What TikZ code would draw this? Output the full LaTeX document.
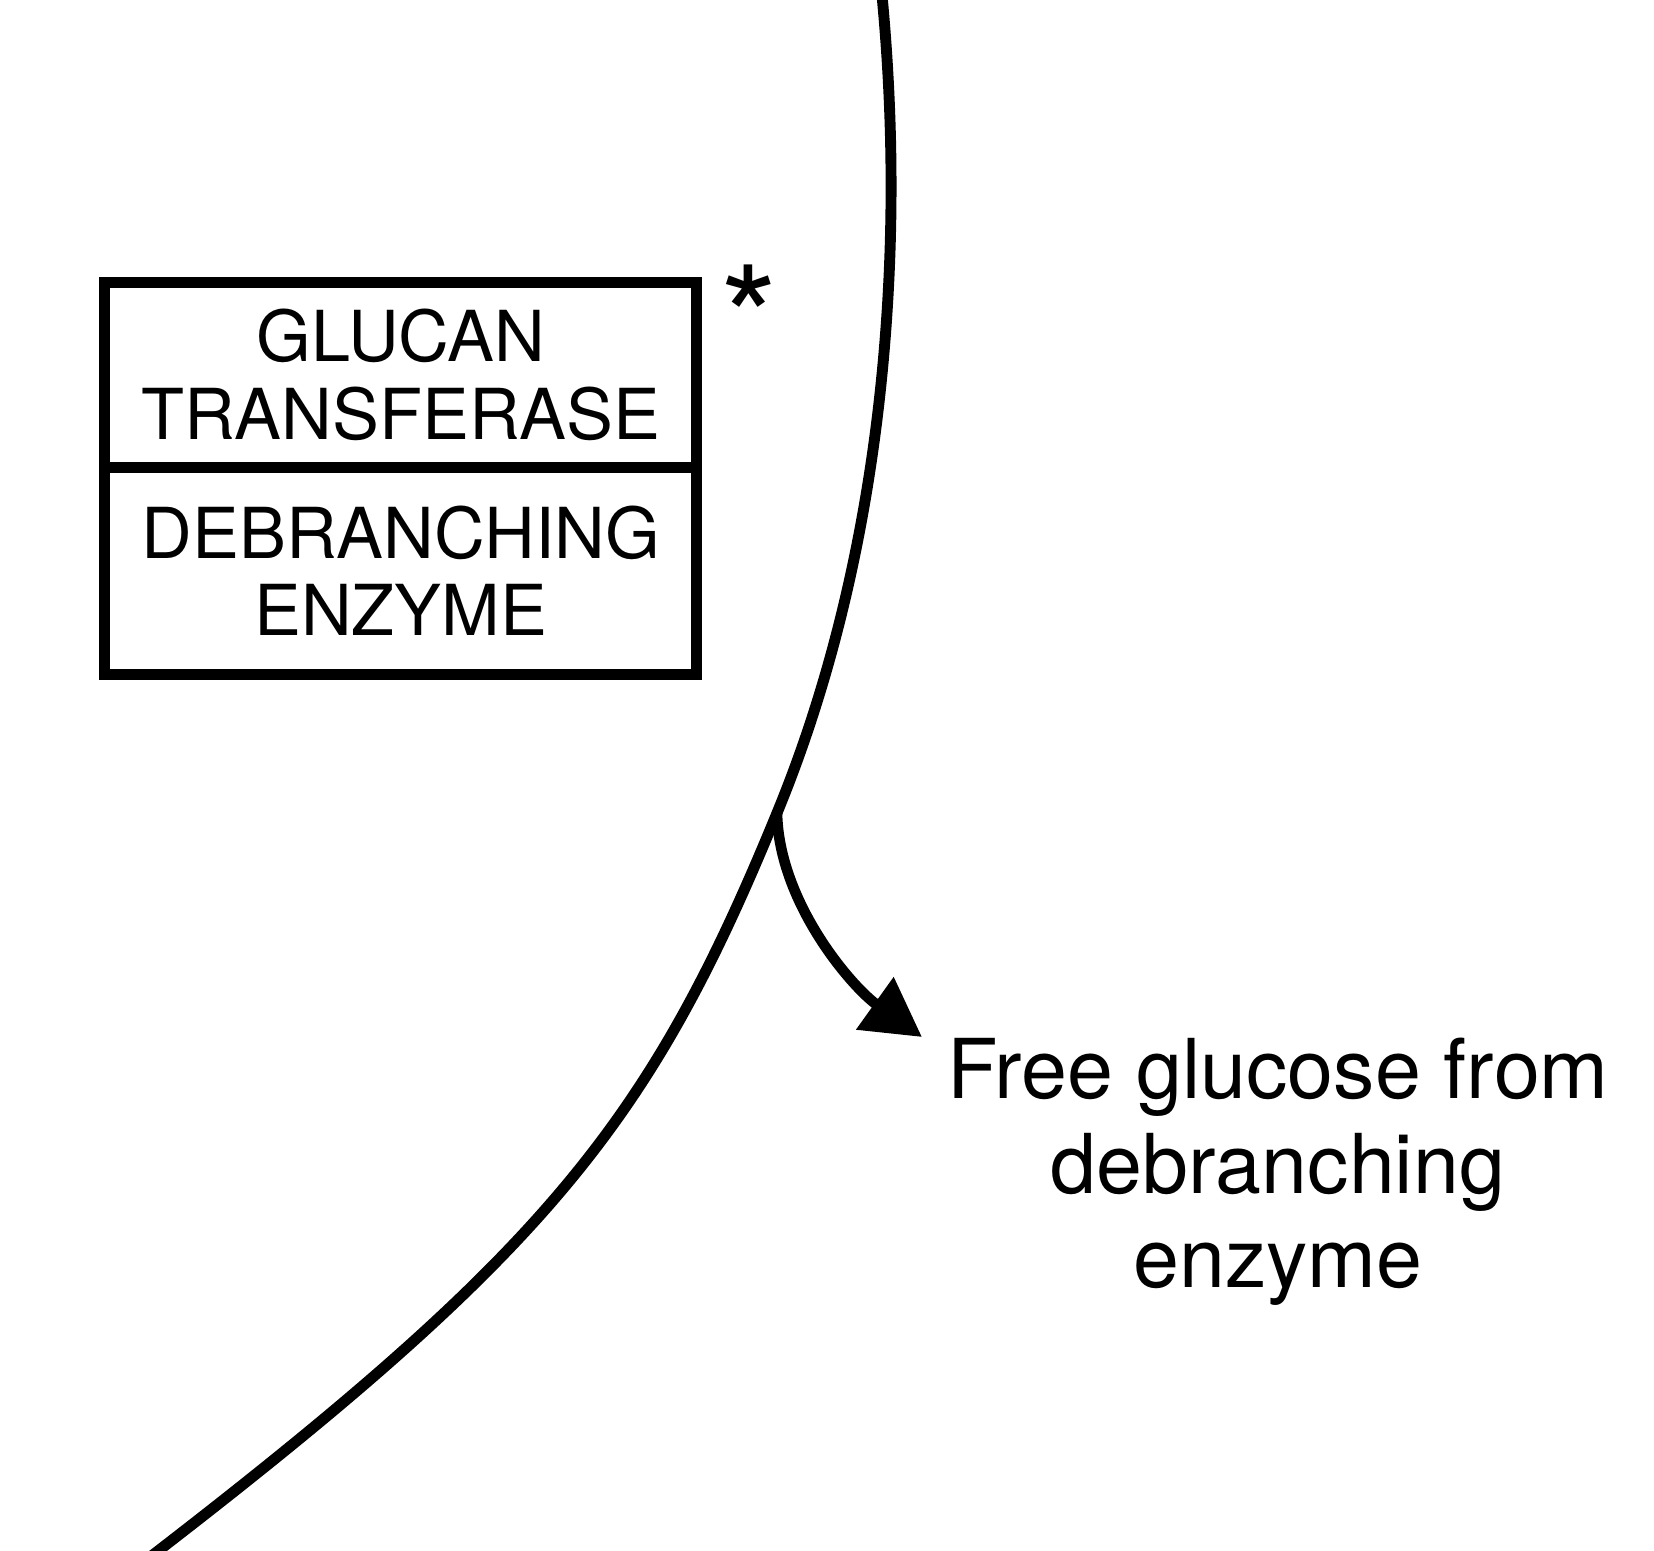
\documentclass[tikz,border=0pt]{standalone}
\usepackage{fontspec}
\setmainfont{TeX Gyre Heros}
\usetikzlibrary{positioning, arrows.meta}

\begin{document}
\begin{tikzpicture}[
                x=0.1mm, y=-0.1mm,
                cell/.style={
                    draw,
                    line width=3.1pt,
                    outer sep=0pt,
                    inner sep=0pt,
                    minimum width=59.2mm,
                    align=center,
                    font=\fontsize{20}{22}\selectfont
                },
                arr/.style={
                    -{Triangle[length=5.8mm, width=6.2mm]},
                    line width=3pt
                },
                rim/.style={
                    line width=3.1pt
                },
                every node/.style={font=\fontsize{23.5}{27}\selectfont}
            ]
                \useasboundingbox (0,0) rectangle (1654,1551);

                \node[cell, minimum height=18.45mm] (transferase) at (400.8,374.8) {GLUCAN\\TRANSFERASE};
                \node[cell, minimum height=20.75mm, below=0pt of transferase] (debranch) {DEBRANCHING\\ENZYME};
                \node[anchor=base, inner sep=0pt, font=\fontsize{42}{42}\selectfont] (star) at (749,372) {*};

                % edge of the granule
                \coordinate (branch) at (777,813);
                \draw[rim] (881,-15) .. controls (909,265) and (880,563) .. (branch)
                           .. controls (650,1123) and (548,1251) .. (145,1561);

                \coordinate (tip) at (922,1037);
                \node[anchor=north, inner sep=0pt, align=center] (glucose) at (1278,1037) {Free glucose from\\debranching\\enzyme};

                \draw[arr] (branch) .. controls +(2,90) and +(-70,-50) .. (tip);
            \end{tikzpicture}
\end{document}
